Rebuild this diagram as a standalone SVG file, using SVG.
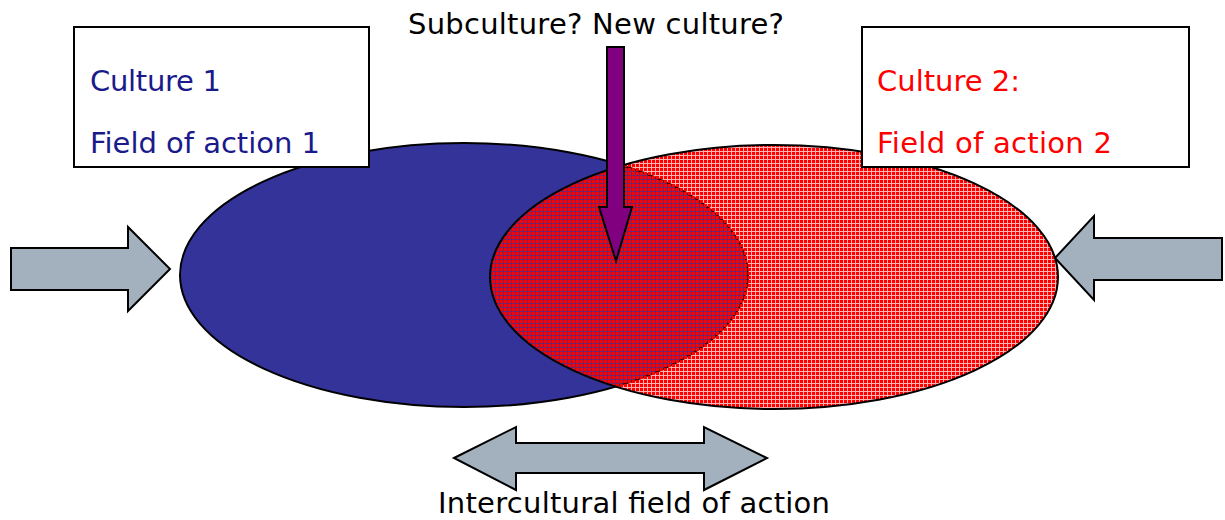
<svg xmlns="http://www.w3.org/2000/svg" width="1225" height="520" viewBox="0 0 1225 520">
<defs>
<pattern id="grid" width="4" height="4" patternUnits="userSpaceOnUse">
<rect x="0" y="0" width="3" height="3" fill="#ff0000"/>
<path d="M3 0h1v4h-1z M0 3h3v1h-3z" fill="#ff0000" fill-opacity="0.3"/>
</pattern>
<style>
.txt{font-family:"DejaVu Sans","Verdana",sans-serif;font-size:29px}
.ga{fill:#a3b1bf;stroke:#000;stroke-width:2;stroke-linejoin:miter}
.box{fill:#fff;stroke:#000;stroke-width:2}
</style>
</defs>
<rect width="1225" height="520" fill="#fff"/>
<g id="culture1-ellipse">
<ellipse cx="464" cy="275" rx="284" ry="132" fill="#333399" stroke="#000" stroke-width="2"/>
</g>
<g id="culture2-ellipse">
<ellipse cx="774" cy="277" rx="284" ry="132" fill="url(#grid)" stroke="#000" stroke-width="2"/>
</g>
<g id="culture1-box">
<rect class="box" x="74" y="27" width="295" height="140"/>
<text class="txt" x="90" y="91" fill="#1a1a8c" textLength="131">Culture 1</text>
<text class="txt" x="90" y="153" fill="#1a1a8c" textLength="230">Field of action 1</text>
</g>
<g id="culture2-box">
<rect class="box" x="862" y="27" width="327" height="140"/>
<text class="txt" x="877" y="91" fill="#ff0000" textLength="143">Culture 2:</text>
<text class="txt" x="877" y="153" fill="#ff0000" textLength="235">Field of action 2</text>
</g>
<g id="connectors">
<path id="subculture-arrow" d="M607 47H624V207H632L616 261L599 207H607Z" fill="#800080" stroke="#000" stroke-width="2"/>
<path id="left-arrow" class="ga" d="M11 248H128V227L170 269L128 311V290H11Z"/>
<path id="right-arrow" class="ga" d="M1222 238H1094V216L1055 258L1094 300V280H1222Z"/>
<path id="intercultural-arrow" class="ga" d="M454 458L516 427V443H704V427L767 458L704 490V473H516V490Z"/>
</g>
<g id="labels">
<text class="txt" x="596" y="34" text-anchor="middle" fill="#000" textLength="376">Subculture? New culture?</text>
<text class="txt" x="634" y="513" text-anchor="middle" fill="#000" textLength="392">Intercultural field of action</text>
</g>
</svg>
